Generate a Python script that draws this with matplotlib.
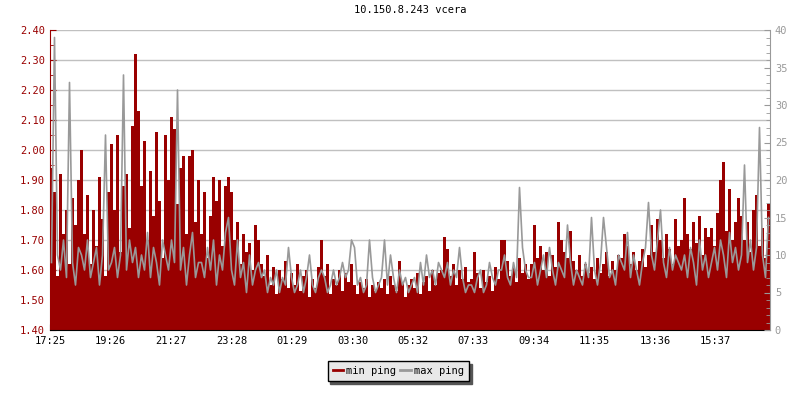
import numpy as np
import matplotlib.pyplot as plt
from matplotlib.ticker import MultipleLocator

plt.rcParams['font.family'] = ['DejaVu Sans Mono']

# one sample every 6 minutes, starting 17:25
min_ping = [
    1.94, 1.86, 1.58, 1.92, 1.72, 1.80, 1.62, 1.84, 1.75, 1.90,
    2.00, 1.72, 1.85, 1.62, 1.80, 1.68, 1.91, 1.77, 1.58, 1.86,
    2.02, 1.80, 2.05, 1.66, 1.88, 1.92, 1.74, 2.08, 2.32, 2.13,
    1.88, 2.03, 1.70, 1.93, 1.78, 2.06, 1.83, 1.64, 2.05, 1.90,
    2.11, 2.07, 1.82, 1.94, 1.98, 1.72, 1.98, 2.00, 1.76, 1.90,
    1.72, 1.86, 1.64, 1.78, 1.91, 1.83, 1.90, 1.68, 1.88, 1.91,
    1.86, 1.70, 1.76, 1.62, 1.72, 1.66, 1.69, 1.60, 1.75, 1.70,
    1.62, 1.58, 1.65, 1.55, 1.61, 1.52, 1.60, 1.57, 1.63, 1.54,
    1.59, 1.55, 1.62, 1.53, 1.58, 1.60, 1.51, 1.57, 1.54, 1.61,
    1.70, 1.58, 1.62, 1.52, 1.57, 1.55, 1.60, 1.53, 1.59, 1.56,
    1.62, 1.55, 1.52, 1.56, 1.54, 1.57, 1.51, 1.55, 1.53, 1.56,
    1.54, 1.57, 1.52, 1.58, 1.55, 1.53, 1.63, 1.56, 1.51, 1.55,
    1.57, 1.54, 1.59, 1.52, 1.56, 1.58, 1.53, 1.60, 1.55, 1.59,
    1.60, 1.71, 1.67, 1.58, 1.62, 1.55, 1.60, 1.57, 1.61, 1.56,
    1.57, 1.66, 1.59, 1.54, 1.60, 1.56, 1.58, 1.53, 1.61, 1.57,
    1.70, 1.70, 1.63, 1.58, 1.61, 1.56, 1.64, 1.59, 1.62, 1.57,
    1.62, 1.75, 1.64, 1.68, 1.60, 1.66, 1.58, 1.65, 1.61, 1.76,
    1.70, 1.66, 1.64, 1.73, 1.63, 1.60, 1.65, 1.58, 1.62, 1.59,
    1.61, 1.57, 1.64, 1.59, 1.62, 1.66, 1.58, 1.63, 1.60, 1.65,
    1.64, 1.72, 1.68, 1.62, 1.66, 1.60, 1.63, 1.67, 1.61, 1.65,
    1.75, 1.66, 1.77, 1.70, 1.64, 1.72, 1.67, 1.62, 1.77, 1.68,
    1.70, 1.84, 1.72, 1.67, 1.76, 1.69, 1.78, 1.65, 1.74, 1.71,
    1.74, 1.68, 1.79, 1.90, 1.96, 1.73, 1.87, 1.70, 1.76, 1.84,
    1.78, 1.70, 1.76, 1.66, 1.80, 1.85, 1.68, 1.74, 1.64, 1.82,
]

max_ping = [
    9, 39, 10, 8, 12, 7, 33, 9, 6, 11,
    10, 8, 12, 7, 9, 11, 6, 10, 26, 8,
    9, 11, 7, 10, 34, 8, 12, 9, 11, 7,
    10, 8, 13, 7, 11, 9, 6, 12, 10, 8,
    12, 9, 32, 8, 11, 6, 10, 13, 7, 9,
    9, 7, 11, 8, 12, 6, 10, 8, 13, 15,
    8, 6, 12, 7, 9, 5, 10, 6, 8, 9,
    7, 8, 5, 7, 6, 8, 5, 7, 6, 11,
    7, 5, 6, 8, 5, 7, 10, 6, 5, 7,
    8, 7, 5, 6, 8, 6, 7, 9, 7, 8,
    12, 11, 6, 7, 5, 6, 12, 7, 5, 6,
    7, 12, 6, 10, 7, 5, 8, 6, 7, 5,
    6, 7, 5, 9, 6, 10, 7, 8, 6, 9,
    8, 7, 9, 6, 8, 7, 11, 7, 5, 6,
    6, 5, 7, 8, 5, 6, 9, 7, 6, 8,
    8, 10, 7, 6, 9, 7, 19, 11, 8, 7,
    7, 9, 6, 8, 10, 7, 11, 8, 6, 9,
    8, 7, 14, 9, 6, 8, 7, 6, 9, 7,
    15, 8, 6, 9, 15, 11, 7, 8, 6, 10,
    9, 8, 13, 7, 10, 8, 6, 9, 11, 17,
    10, 8, 12, 16, 9, 7, 11, 8, 10, 9,
    8, 10, 7, 11, 9, 6, 12, 8, 10, 7,
    9, 11, 8, 12, 10, 7, 13, 9, 11, 8,
    10, 22, 9, 12, 8, 11, 27, 10, 7, 15,
]

tick_labels = ['17:25', '19:26', '21:27', '23:28', '01:29', '03:30',
               '05:32', '07:33', '09:34', '11:35', '13:36', '15:37']

red = '#990000'
gray = '#999999'

edges = np.arange(len(min_ping) + 1) * 6
centers = edges[:-1] + 3

fig = plt.figure(figsize=(8, 4), dpi=100)
ax = fig.add_axes([0.0625, 0.175, 0.9, 0.75])
ax.stairs(min_ping, edges, baseline=1.40, fill=True, color=red, label='min ping')
ax.set_ylim(1.40, 2.40)
ax.set_xlim(0, 1440)
ax.set_axisbelow(True)
ax.yaxis.set_major_locator(MultipleLocator(0.1))
ax.yaxis.set_minor_locator(MultipleLocator(0.05))
ax.yaxis.set_major_formatter(lambda v, p: f'{v:.2f}')
ax.grid(axis='y', color='#c0c0c0', linewidth=1)
ax.set_xticks(np.arange(len(tick_labels)) * 121)
ax.set_xticklabels(tick_labels)
ax.tick_params(axis='x', direction='in', length=4, labelsize=7.5, pad=4)
ax.tick_params(axis='y', which='both', direction='in', colors=red, labelsize=7.5)
ax.tick_params(axis='y', which='major', length=4)
ax.tick_params(axis='y', which='minor', length=3)

ax2 = ax.twinx()
ax2.plot(centers, max_ping, color=gray, linewidth=1.2, label='max ping')
ax2.set_ylim(0, 40)
ax2.yaxis.set_major_locator(MultipleLocator(5))
ax2.yaxis.set_minor_locator(MultipleLocator(1))
ax2.tick_params(axis='y', which='both', direction='in', colors=gray, labelsize=7.5)
ax2.tick_params(axis='y', which='major', length=4)
ax2.tick_params(axis='y', which='minor', length=3)

for a in (ax, ax2):
    a.spines['top'].set_visible(False)
ax.spines['left'].set_color(red)
ax.spines['right'].set_visible(False)
ax2.spines['left'].set_visible(False)
ax2.spines['bottom'].set_visible(False)
ax2.spines['right'].set_color(gray)

ax.set_title('10.150.8.243 vcera', fontsize=7.5, pad=12)

h1 = plt.Line2D([], [], color=red, lw=2)
h2 = plt.Line2D([], [], color=gray, lw=2)
leg = fig.legend([h1, h2], ['min ping', 'max ping'], loc='center',
                 bbox_to_anchor=(0.498, 0.0725), ncol=2, fontsize=7.5,
                 fancybox=False, edgecolor='black', facecolor='#e8e8e8',
                 framealpha=1, handlelength=1.0, handletextpad=0.3,
                 columnspacing=0.4, borderpad=0.5,
                 shadow={'color': '#555555', 'alpha': 1})
leg.get_frame().set_linewidth(1)

fig.savefig('out.png', dpi=100)
